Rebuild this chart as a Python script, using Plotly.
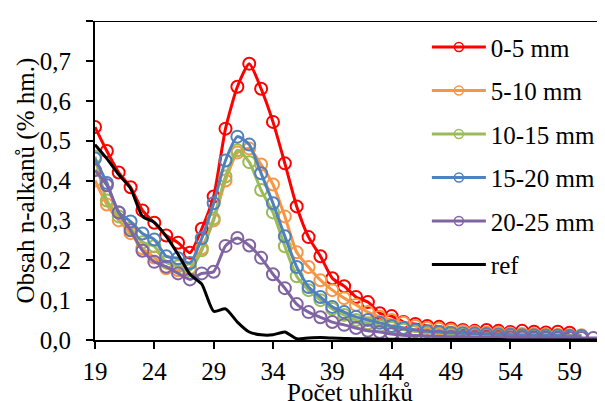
import plotly.graph_objects as go

carbons = list(range(19, 63))

s0_5 = [0.534, 0.474, 0.42, 0.383, 0.325, 0.294, 0.262, 0.244, 0.219, 0.279, 0.36, 0.53, 0.635, 0.693,
        0.63, 0.547, 0.443, 0.335, 0.258, 0.21, 0.155, 0.135, 0.108, 0.095, 0.067, 0.06, 0.045, 0.04,
        0.035, 0.033, 0.029, 0.025, 0.023, 0.025, 0.023, 0.02, 0.023, 0.021, 0.019, 0.021, 0.018]
s5_10 = [0.40, 0.34, 0.30, 0.268, 0.23, 0.207, 0.18, 0.175, 0.18, 0.23, 0.30, 0.40, 0.47, 0.48,
         0.44, 0.39, 0.31, 0.22, 0.183, 0.15, 0.125, 0.105, 0.088, 0.07, 0.058, 0.05, 0.043, 0.035,
         0.03, 0.028, 0.025, 0.022, 0.02, 0.018, 0.018, 0.016, 0.015, 0.015, 0.014, 0.013, 0.012, 0.012]
s10_15 = [0.46, 0.35, 0.31, 0.28, 0.245, 0.235, 0.195, 0.185, 0.175, 0.225, 0.305, 0.41, 0.476, 0.446,
          0.376, 0.32, 0.235, 0.16, 0.125, 0.10, 0.078, 0.063, 0.05, 0.042, 0.035, 0.03, 0.026, 0.022,
          0.02, 0.018, 0.016, 0.015, 0.014, 0.013, 0.012, 0.012, 0.011, 0.011, 0.01, 0.01, 0.01, 0.01]
s15_20 = [0.455, 0.394, 0.32, 0.297, 0.267, 0.252, 0.21, 0.205, 0.193, 0.255, 0.343, 0.45, 0.51, 0.49,
          0.418, 0.343, 0.26, 0.183, 0.133, 0.108, 0.083, 0.07, 0.058, 0.05, 0.043, 0.035, 0.03, 0.025,
          0.022, 0.02, 0.018, 0.017, 0.016, 0.015, 0.014, 0.013, 0.012, 0.012, 0.011, 0.011, 0.01, 0.01]
s20_25 = [0.426, 0.388, 0.32, 0.275, 0.224, 0.196, 0.184, 0.167, 0.152, 0.167, 0.171, 0.236, 0.256, 0.237,
          0.206, 0.165, 0.13, 0.09, 0.07, 0.057, 0.045, 0.038, 0.03, 0.023, 0.02, 0.015, 0.012, 0.011,
          0.01, 0.009, 0.008, 0.008, 0.007, 0.007, 0.006, 0.006, 0.006, 0.005, 0.005, 0.005, 0.005, 0.005,
          0.005, 0.005]
ref = [0.49, 0.455, 0.415, 0.38, 0.31, 0.295, 0.26, 0.215, 0.165, 0.14, 0.072, 0.078, 0.045, 0.02,
       0.013, 0.013, 0.02, 0.003, 0.005, 0.006, 0.005, 0.004, 0.003, 0.003, 0.002, 0.002, 0.002, 0.002,
       0.001, 0.001, 0.001, 0.001, 0.001, 0.001, 0.001, 0.0, 0.0, 0.0, 0.0, 0.0, 0.0, 0.0, 0.0, 0.0]

x_ticks = [19, 24, 29, 34, 39, 44, 49, 54, 59]

series = [
    ("0-5 mm", s0_5, "#FF0000"),
    ("5-10 mm", s5_10, "#F79646"),
    ("10-15 mm", s10_15, "#9BBB59"),
    ("15-20 mm", s15_20, "#4F81BD"),
    ("20-25 mm", s20_25, "#8064A2"),
]

FONT = "Liberation Serif"
FS = 25
fig = go.Figure()
for i, (name, vals, col) in enumerate(series):
    fig.add_trace(go.Scatter(
        x=carbons[:len(vals)], y=vals, name=name, mode="lines+markers",
        line=dict(color=col, width=3, shape="spline", smoothing=0.6),
        marker=dict(symbol="circle-open", size=12, color=col, line=dict(width=2, color=col)),
        showlegend=False,
    ))
fig.add_trace(go.Scatter(
    x=carbons, y=ref, name="ref", mode="lines",
    line=dict(color="black", width=3, shape="spline", smoothing=0.6),
    showlegend=False,
))
# legend entries
for i, (name, vals, col) in enumerate(series):
    fig.add_trace(go.Scatter(
        x=[None], y=[None], name=name, mode="lines+markers",
        line=dict(color=col, width=3),
        marker=dict(symbol="circle-open", size=9, color=col, line=dict(width=1.5, color=col)),
        legendgroup=f"g{i}", showlegend=True,
    ))
fig.add_trace(go.Scatter(x=[None], y=[None], name="ref", mode="lines",
                         line=dict(color="black", width=3), legendgroup="g9", showlegend=True))

fig.add_shape(type="line", xref="paper", yref="y", x0=0, x1=1, y0=0.8, y1=0.8,
              line=dict(color="black", width=2))

fig.add_annotation(text="Počet uhlíků", xref="paper", yref="paper", x=0.5, y=0,
                   xanchor="center", yanchor="top", yshift=-37, showarrow=False,
                   font=dict(size=FS, family=FONT, color="black"))
fig.add_annotation(text="Obsah n-alkanů (% hm.)", xref="paper", yref="paper", x=0, y=0.5,
                   xanchor="center", yanchor="middle", xshift=-70, textangle=-90, showarrow=False,
                   font=dict(size=FS, family=FONT, color="black"))

fig.update_layout(
    width=597, height=393,
    margin=dict(l=87, r=1, t=13, b=61),
    paper_bgcolor="white", plot_bgcolor="white",
    separators=", ",
    font=dict(family=FONT, size=FS, color="black"),
    showlegend=True,
    legend=dict(x=0.652, y=0.99, xanchor="left", yanchor="top", font=dict(size=FS, family=FONT),
                tracegroupgap=8, bgcolor="rgba(0,0,0,0)", itemwidth=54),
    xaxis=dict(range=[19, 61.9], tickvals=x_ticks, showgrid=False, zeroline=False,
               showline=True, linecolor="black", linewidth=2,
               ticks="outside", ticklen=7, tickwidth=2, tickcolor="black",
               ticklabelstandoff=1,
               tickfont=dict(size=FS, family=FONT)),
    yaxis=dict(range=[0, 0.8], dtick=0.1, tickformat=".1f", showgrid=False, zeroline=False,
               showline=True, linecolor="black", linewidth=2,
               ticks="outside", ticklen=7, tickwidth=2, tickcolor="black",
               ticklabelstandoff=10,
               tickfont=dict(size=FS, family=FONT)),
)

fig.write_html("out.html")
